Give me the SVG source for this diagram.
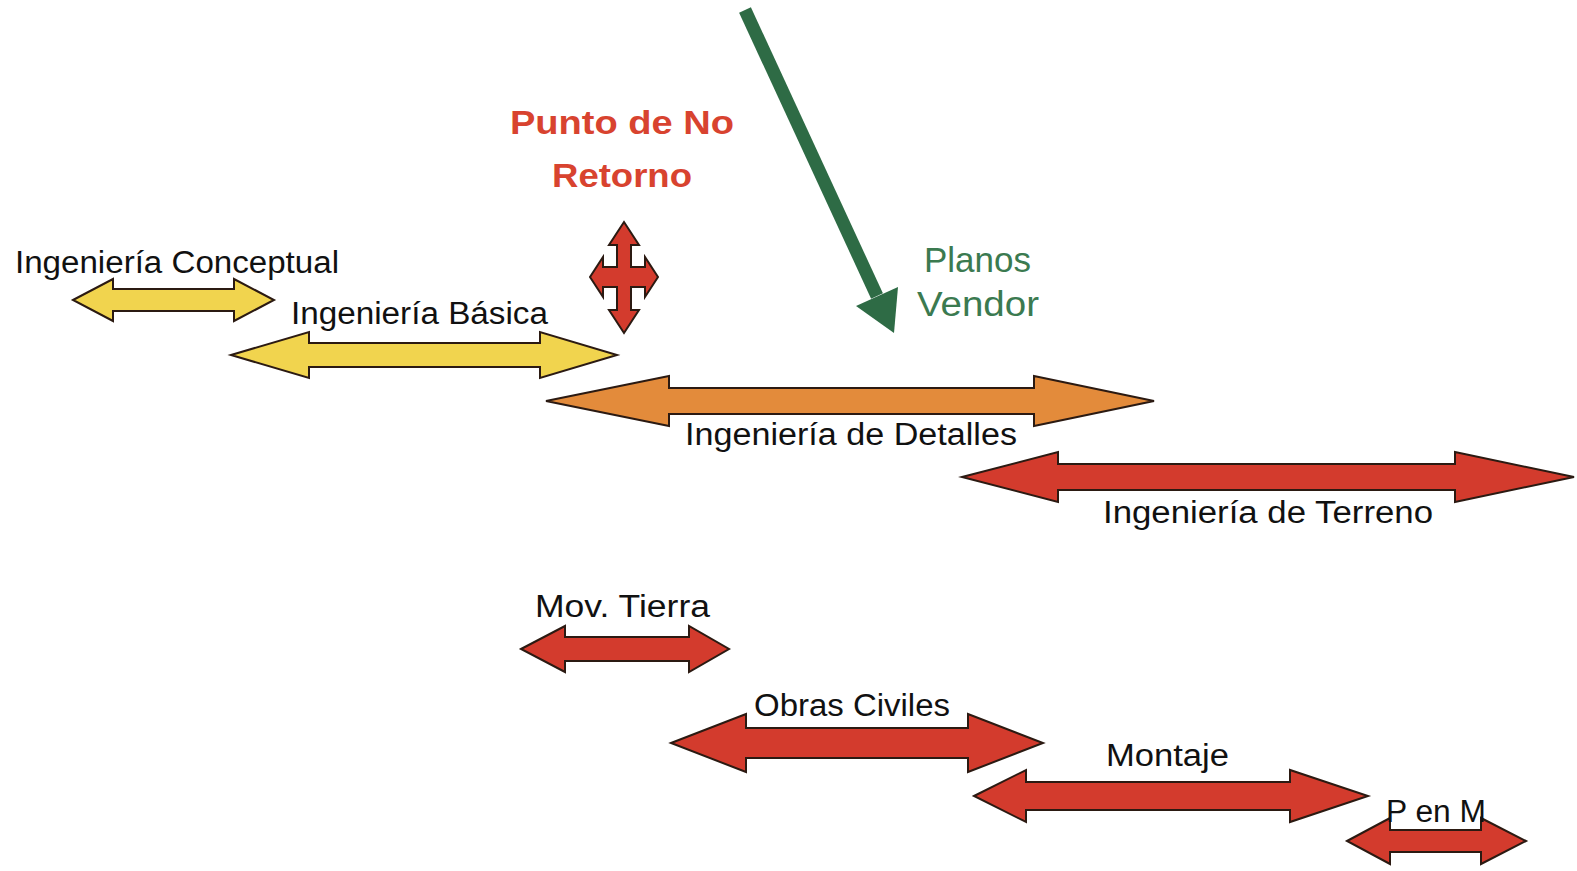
<svg xmlns="http://www.w3.org/2000/svg" width="1577" height="871" viewBox="0 0 1577 871">
<style>
.arr{stroke:#2b1a12;stroke-width:2;stroke-linejoin:miter}
.y{fill:#F1D44E}
.o{fill:#E38B3B}
.r{fill:#D33B2D}
.lbl{font-family:"Liberation Sans",Arial,sans-serif;font-size:31px;fill:#111}
.red{font-family:"Liberation Sans",Arial,sans-serif;font-size:34px;font-weight:bold;fill:#D8432F}
.grn{font-family:"Liberation Sans",Arial,sans-serif;font-size:35px;fill:#3B7A50}
</style>
<rect width="1577" height="871" fill="#fff"/>
<g id="connectors">
  <line x1="745" y1="10" x2="877" y2="296" stroke="#2E6B45" stroke-width="13"/>
  <polygon points="856,306 898,287 894,333" fill="#2E6B45"/>
</g>
<g id="conceptual">
  <polygon class="arr y" points="73,300 113,279 113,289 234,289 234,279 274,300 234,321 234,311 113,311 113,321"/>
  <text class="lbl" x="15" y="273" textLength="324" lengthAdjust="spacingAndGlyphs">Ingeniería Conceptual</text>
</g>
<g id="basica">
  <polygon class="arr y" points="231,355 309,332 309,343 540,343 540,332 617,355 540,378 540,367 309,367 309,378"/>
  <text class="lbl" x="291" y="324" textLength="257" lengthAdjust="spacingAndGlyphs">Ingeniería Básica</text>
</g>
<g id="detalles">
  <polygon class="arr o" points="546,401 669,376 669,388 1034,388 1034,376 1154,401 1034,426 1034,414 669,414 669,426"/>
  <text class="lbl" x="685" y="445" textLength="332" lengthAdjust="spacingAndGlyphs">Ingeniería de Detalles</text>
</g>
<g id="terreno">
  <polygon class="arr r" points="962,477 1058,452 1058,464 1455,464 1455,452 1574,477 1455,502 1455,490 1058,490 1058,502"/>
  <text class="lbl" x="1103" y="523" textLength="330" lengthAdjust="spacingAndGlyphs">Ingeniería de Terreno</text>
</g>
<g id="no-retorno">
  <text class="red" x="622" y="134" text-anchor="middle" textLength="224" lengthAdjust="spacingAndGlyphs">Punto de No</text>
  <text class="red" x="622" y="187" text-anchor="middle" textLength="140" lengthAdjust="spacingAndGlyphs">Retorno</text>
  <polygon class="arr r" points="624,222 639,245 631,245 631,267 645,267 645,257 658,277 645,297 645,287 631,287 631,310 639,310 624,333 609,310 617,310 617,287 603,287 603,297 590,277 603,257 603,267 617,267 617,245 609,245"/>
</g>
<g id="vendor">
  <text class="grn" x="924" y="272" textLength="107" lengthAdjust="spacingAndGlyphs">Planos</text>
  <text class="grn" x="917" y="316" textLength="122" lengthAdjust="spacingAndGlyphs">Vendor</text>
</g>
<g id="mov-tierra">
  <polygon class="arr r" points="521,649 565,626 565,637 689,637 689,626 729,649 689,672 689,661 565,661 565,672"/>
  <text class="lbl" x="535" y="617" textLength="175" lengthAdjust="spacingAndGlyphs">Mov. Tierra</text>
</g>
<g id="obras-civiles">
  <polygon class="arr r" points="671,743 746,714 746,728 968,728 968,714 1043,743 968,772 968,758 746,758 746,772"/>
  <text class="lbl" x="754" y="716" textLength="196" lengthAdjust="spacingAndGlyphs">Obras Civiles</text>
</g>
<g id="montaje">
  <polygon class="arr r" points="974,796 1026,770 1026,782 1290,782 1290,770 1368,796 1290,822 1290,810 1026,810 1026,822"/>
  <text class="lbl" x="1106" y="766" textLength="123" lengthAdjust="spacingAndGlyphs">Montaje</text>
</g>
<g id="p-en-m">
  <polygon class="arr r" points="1347,841 1390,818 1390,830 1481,830 1481,818 1526,841 1481,864 1481,852 1390,852 1390,864"/>
  <text class="lbl" x="1386" y="822" textLength="100" lengthAdjust="spacingAndGlyphs">P en M</text>
</g>
</svg>
